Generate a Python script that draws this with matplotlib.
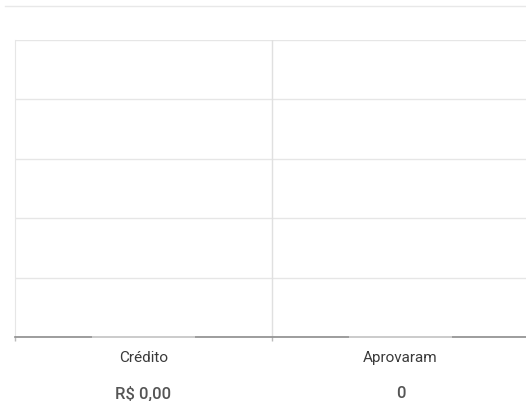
import matplotlib.pyplot as plt
import matplotlib.lines as mlines

# chart data
categories = ['Crédito', 'Aprovaram']
values = [0, 0]
value_labels = ['R$ 0,00', '0']
y_ticks = [0, 1, 2, 3, 4, 5]

plt.rcParams['font.family'] = ['Roboto', 'DejaVu Sans']

fig = plt.figure(figsize=(5.26, 4.02), dpi=100)
ax = fig.add_axes([15 / 526, 64 / 402, 514 / 526, 297 / 402])

x = list(range(len(categories)))
ax.bar(x, values, width=0.4, color='#d4d4d4', edgecolor='#d6d6d6',
       linewidth=1.2, zorder=4, clip_on=False)

ax.set_xlim(-0.5, len(categories) - 0.5)
ax.set_ylim(y_ticks[0], y_ticks[-1])
ax.set_yticks(y_ticks)
ax.set_yticklabels([])
ax.tick_params(axis='y', length=0)
ax.grid(axis='y', color='#e6e6e6', linewidth=1)
ax.set_axisbelow(True)

# category separators
for b in [i + 0.5 for i in x[:-1]]:
    ax.axvline(b, color='#e0e0e0', linewidth=1, zorder=1)

ax.set_xticks([i - 0.5 for i in range(len(categories) + 1)])
ax.set_xticklabels([])
ax.tick_params(axis='x', length=3, color='#bbbbbb', width=1)

for s in ['top', 'right']:
    ax.spines[s].set_visible(False)
ax.spines['left'].set_color('#e6e6e6')
ax.spines['bottom'].set_color('#8c8c8c')
ax.spines['bottom'].set_linewidth(1.2)

for i, (cat, val) in enumerate(zip(categories, value_labels)):
    ax.annotate(cat, (i, 0), xytext=(0, -14.5), textcoords='offset points',
                ha='center', va='center', fontsize=11, color='#3a3a3a')
    ax.annotate(val, (i, 0), xytext=(0, -40), textcoords='offset points',
                ha='center', va='center', fontsize=12, color='#555555',
                fontweight='medium')

# top separator line
fig.add_artist(mlines.Line2D([5 / 526, 1], [1 - 7 / 402, 1 - 7 / 402],
                             color='#e8e8e8', linewidth=1))

fig.savefig('out.png', dpi=100)
